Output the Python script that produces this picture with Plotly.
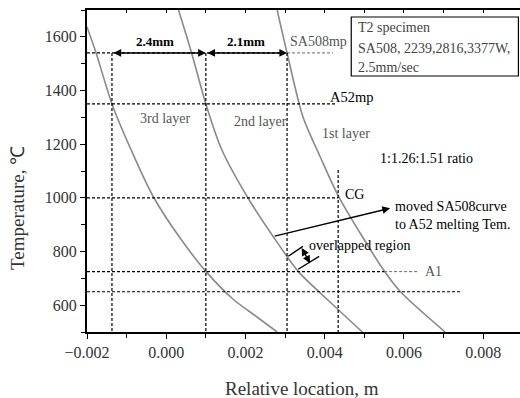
import plotly.graph_objects as go

# ---- data ----
x_3rd = [-0.002, -0.00177, -0.00137, -0.00089, -0.00033, 0.00035, 0.001, 0.00169, 0.0023, 0.0028]
T_3rd = [1637, 1540, 1350, 1180, 1005, 850, 726, 622, 555, 500]

x_2nd = [0.00031, 0.00064, 0.001, 0.0014, 0.00204, 0.0027, 0.00333, 0.00406, 0.00495]
T_2nd = [1700, 1540, 1350, 1180, 1005, 856, 726, 622, 500]

x_1st = [0.0028, 0.00305, 0.00345, 0.00388, 0.00436, 0.0055, 0.0059, 0.00704]
T_1st = [1700, 1540, 1302, 1155, 1003, 728, 652, 500]

# reference levels
T_SA508mp = 1540
T_A52mp = 1350
T_CG = 1000
T_A1 = 725
T_low = 650
x_cross = [-0.00137, 0.001, 0.00305]   # layer crossings
x_CG = 0.00434

X_MIN, X_MAX = -0.002, 0.00893
Y_MIN, Y_MAX = 500, 1700

FONT = "Liberation Serif"
GRAY = "#8a8a8a"
DASH = "3px,2px"

fig = go.Figure()

for xs, ts in [(x_3rd, T_3rd), (x_2nd, T_2nd), (x_1st, T_1st)]:
    fig.add_trace(go.Scatter(x=xs, y=ts, mode="lines",
                             line=dict(color=GRAY, width=1.6, shape="spline", smoothing=0.8),
                             hoverinfo="skip", showlegend=False))

def dline(x0, x1, y0, y1, color="black", width=1.2):
    fig.add_trace(go.Scatter(x=[x0, x1], y=[y0, y1], mode="lines",
                             line=dict(color=color, width=width, dash=DASH),
                             hoverinfo="skip", showlegend=False))

# horizontal dashed lines
dline(X_MIN, x_cross[2], T_SA508mp, T_SA508mp)
dline(x_cross[2], 0.00421, T_SA508mp, T_SA508mp, color="#666", width=1.0)
dline(X_MIN, 0.00426, T_A52mp, T_A52mp)
dline(X_MIN, x_CG, T_CG, T_CG)
dline(X_MIN, 0.0055, T_A1, T_A1)
dline(0.0055, 0.00636, T_A1, T_A1, color="#666", width=1.0)
dline(X_MIN, 0.00747, T_low, T_low)
# vertical dashed lines
for xc in x_cross:
    dline(xc, xc, T_SA508mp, Y_MIN)
dline(x_CG, x_CG, 1104, Y_MIN)

ann = []
def txt(x, y, s, color="black", size=14, bold=False, xanchor="left"):
    if bold:
        s = "<b>" + s + "</b>"
    ann.append(dict(x=x, y=y, xref="x", yref="y", text=s, showarrow=False,
                    xanchor=xanchor, yanchor="middle",
                    font=dict(family=FONT, size=size, color=color)))

def arrow(x0, y0, x1, y1, both=False):
    ann.append(dict(x=x1, y=y1, ax=x0, ay=y0, xref="x", yref="y", axref="x", ayref="y",
                    text="", showarrow=True, arrowhead=2, arrowsize=1.1, arrowwidth=1.4,
                    arrowcolor="black", arrowside="end+start" if both else "end",
                    standoff=0, startstandoff=0))

# distance arrows
arrow(x_cross[0], T_SA508mp, x_cross[1], T_SA508mp, both=True)
arrow(x_cross[1], T_SA508mp, x_cross[2], T_SA508mp, both=True)
txt(-0.000283, 1581, "2.4mm", bold=True, size=13, xanchor="center")
txt(0.00202, 1581, "2.1mm", bold=True, size=13, xanchor="center")
txt(0.003076, 1581, "SA508mp", color="#555")
txt(0.00409, 1376, "A52mp", size=14.5)
txt(-0.00071, 1297, "3rd layer", color="#555")
txt(0.00166, 1283, "2nd layer", color="#555")
txt(0.00388, 1238, "1st layer", color="#555")
txt(0.00535, 1148, "1:1.26:1.51 ratio")
txt(0.00446, 1014, "CG")
arrow(0.0027, 856, 0.00565, 961)
txt(0.00573, 966, "moved SA508curve")
txt(0.00573, 899, "to A52 melting Tem.")
txt(0.00356, 822, "overlapped region")
txt(0.00649, 727, "A1", color="#555")
# overlapped region marks
arrow(0.0034, 819, 0.00363, 756, both=True)
shapes = [
    dict(type="line", xref="x", yref="y", x0=0.00308, y0=782, x1=0.00345, y1=819,
         line=dict(color="black", width=1.3)),
    dict(type="line", xref="x", yref="y", x0=0.00333, y0=734, x1=0.00386, y1=782,
         line=dict(color="black", width=1.3)),
    dict(type="rect", xref="x", yref="y", x0=0.00467, y0=1454, x1=0.00889, y1=1674,
         line=dict(color="black", width=1.2), fillcolor="white", layer="below"),
]
# info box text
txt(0.00479, 1633, "T2 specimen", color="#444")
txt(0.00479, 1558, "SA508, 2239,2816,3377W,", color="#444")
txt(0.00479, 1484, "2.5mm/sec", color="#444")

# axis titles
ann.append(dict(x=-0.1617, y=0.385, xref="paper", yref="paper", text="Temperature, ℃",
                textangle=-90, showarrow=False, xanchor="center", yanchor="middle",
                font=dict(family=FONT, size=19, color="#333")))
ann.append(dict(x=0.4965, y=-0.174, xref="paper", yref="paper", text="Relative location, m",
                showarrow=False, xanchor="center", yanchor="middle",
                font=dict(family=FONT, size=19, color="#333")))

fig.update_layout(
    width=520, height=398,
    margin=dict(l=87, r=0, t=10, b=66),
    paper_bgcolor="white", plot_bgcolor="white",
    showlegend=False,
    annotations=ann, shapes=shapes,
    xaxis=dict(range=[X_MIN, X_MAX], dtick=0.002, tick0=-0.002, tickformat=".3f",
               ticks="outside", ticklen=5, tickwidth=1.2, tickcolor="black",
               minor=dict(dtick=0.001, ticks="outside", ticklen=4, tickwidth=1.2, tickcolor="black"),
               showline=True, linecolor="black", linewidth=2, showgrid=False, zeroline=False,
               tickfont=dict(family=FONT, size=16, color="#333")),
    xaxis2=dict(range=[X_MIN, X_MAX], overlaying="x", side="top", dtick=0.001, tick0=-0.002,
                ticks="inside", ticklen=3, tickwidth=1, tickcolor="black",
                showticklabels=False, showline=True, linecolor="black", linewidth=2,
                showgrid=False, zeroline=False),
    yaxis=dict(range=[Y_MIN, Y_MAX], dtick=200, tick0=600,
               ticks="outside", ticklen=5, tickwidth=1.2, tickcolor="black",
               minor=dict(dtick=100, ticks="outside", ticklen=4, tickwidth=1.2, tickcolor="black"),
               showline=True, linecolor="black", linewidth=2, showgrid=False, zeroline=False,
               tickfont=dict(family=FONT, size=16, color="#333")),
)
# dummy trace on the top axis so it renders
fig.add_trace(go.Scatter(x=[X_MIN], y=[Y_MIN], xaxis="x2", mode="markers",
                         marker=dict(opacity=0), hoverinfo="skip", showlegend=False))

fig.write_html("out.html")
